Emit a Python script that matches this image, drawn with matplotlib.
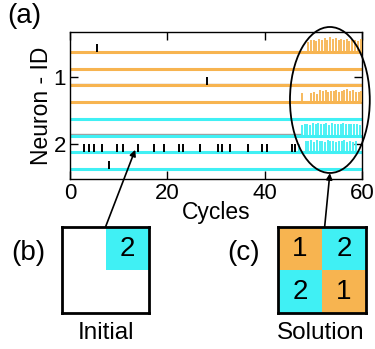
import matplotlib
matplotlib.use('Agg')
import matplotlib.pyplot as plt
from matplotlib.patches import Ellipse, Rectangle

plt.rcParams['font.family'] = ['Liberation Sans', 'DejaVu Sans']

ORANGE = '#F7B450'
CYAN = '#40F0F4'

# ---------------- data ----------------
rows = [1, 2, 3, 4, 5, 6, 7, 8]
row_groups = ['1', '1', '1', '1', '2', '2', '2', '2']
group_ticks = [2.5, 6.5]
group_labels = ['1', '2']
x_ticks = [0, 20, 40, 60]

# black (non-solution) spikes: (row, time)
black_row1 = [5.5]
black_row3 = [28.2]
black_row7 = [2.9, 4.0, 4.9, 6.6, 9.6, 10.9, 13.9, 17.2, 19.3, 22.4, 23.2,
              26.8, 30.5, 31.3, 32.9, 36.6, 39.4, 40.4, 45.6, 46.3]
black_row8 = [8.0]

# coloured (solution) spikes
row1_t = [48.9, 49.5, 50.1, 50.6, 51.2, 51.8, 52.3, 52.9, 53.5, 54.0, 54.6,
          55.2, 55.7, 56.3, 56.9, 57.4, 58.0, 58.6, 59.2, 59.8]
row1_h = [0.62, 0.70, 0.72, 0.66, 0.80, 0.70, 0.84, 0.74, 0.90, 0.80, 0.86,
          0.72, 0.80, 0.70, 0.76, 0.66, 0.74, 0.70, 0.64, 0.78]
row4_t = [47.6, 49.6, 50.2, 50.8, 51.3, 51.9, 52.5, 53.0, 53.6, 54.2, 54.7,
          55.3, 55.9, 56.4, 57.0, 57.6, 58.1, 58.7, 59.3, 59.8]
row4_h = [0.55, 0.52, 0.60, 0.50, 0.70, 0.66, 0.72, 0.62, 0.68, 0.64, 0.70,
          0.60, 0.66, 0.72, 0.80, 0.66, 0.70, 0.62, 0.60, 0.66]
row6_t = [47.6, 48.2, 48.8, 49.3, 49.9, 50.5, 51.0, 51.6, 52.2, 52.7, 53.3,
          53.9, 54.4, 55.0, 55.6, 56.1, 56.7, 57.3, 57.8, 58.4, 59.0, 59.6]
row6_h = [0.62, 0.68, 0.72, 0.66, 0.74, 0.70, 0.78, 0.72, 0.68, 0.74, 0.66,
          0.76, 0.70, 0.72, 0.68, 0.74, 0.70, 0.72, 0.68, 0.70, 0.72, 0.66]
row7_t = [47.0, 48.4, 49.0, 49.6, 50.1, 50.7, 51.3, 51.8, 52.4, 53.0, 53.5,
          54.1, 54.7, 55.2, 55.8, 56.4, 56.9, 57.5, 58.1, 58.7]
row7_h = [0.50, 0.70, 0.66, 0.74, 0.60, 0.72, 0.66, 0.70, 0.64, 0.72, 0.66,
          0.70, 0.64, 0.70, 0.66, 0.72, 0.64, 0.70, 0.62, 0.66]

initial_grid = [['', '2'], ['', '']]
solution_grid = [['1', '2'], ['2', '1']]

# ---------------- figure ----------------
W, H = 375, 349
fig = plt.figure(figsize=(W / 100, H / 100), dpi=100)


def fbox(x0, y0, x1, y1):
    return [x0 / W, 1 - y1 / H, (x1 - x0) / W, (y1 - y0) / H]


ax = fig.add_axes(fbox(70, 32, 362, 179))
ax.set_xlim(0, 60)
ax.set_ylim(8.6, -0.2)

grp_color = {'1': ORANGE, '2': CYAN}
for r, g in zip(rows, row_groups):
    ax.plot([0, 60], [r, r], color=grp_color[g], lw=2.2, solid_capstyle='butt', zorder=2)
# faint grey traces above some lines
ax.plot([0, 60], [2.92, 2.92], color='#b8a890', lw=1.0, zorder=1)
ax.plot([0, 47.5], [5.92, 5.92], color='#a0a0a0', lw=1.0, zorder=1)


def spikes(times, row, heights, color, lw):
    for t, h in zip(times, heights):
        ax.plot([t, t], [row, row - h], color=color, lw=lw, solid_capstyle='butt', zorder=3)


spikes(black_row1, 1, [0.5] * len(black_row1), 'black', 1.4)
spikes(black_row3, 3, [0.5] * len(black_row3), 'black', 1.4)
spikes(black_row7, 7, [0.5] * len(black_row7), 'black', 1.4)
spikes(black_row8, 8, [0.5] * len(black_row8), 'black', 1.4)
spikes(row1_t, 1, row1_h, ORANGE, 1.3)
spikes(row4_t, 4, row4_h, ORANGE, 1.3)
spikes(row6_t, 6, row6_h, CYAN, 1.3)
spikes(row7_t, 7, row7_h, CYAN, 1.3)

ax.set_xticks(x_ticks)
ax.set_yticks(group_ticks)
ax.set_yticklabels(group_labels)
ax.tick_params(direction='in', top=True, right=True, length=6, width=1,
               labelsize=16, pad=3)
for s in ax.spines.values():
    s.set_linewidth(1.0)
ax.set_xlabel('Cycles', fontsize=16.5, labelpad=-2)
ax.set_ylabel('Neuron - ID', fontsize=16.5, labelpad=0)

ell = Ellipse((53.4, 3.87), 16.4, 8.74, fill=False, edgecolor='black', lw=1.3,
              clip_on=False, zorder=5)
ax.add_patch(ell)


def grid_panel(box, grid):
    a = fig.add_axes(box)
    a.set_xlim(0, 2)
    a.set_ylim(2, 0)
    a.set_xticks([])
    a.set_yticks([])
    for i, rowv in enumerate(grid):
        for j, v in enumerate(rowv):
            col = {'1': ORANGE, '2': CYAN}.get(v, 'white')
            a.add_patch(Rectangle((j, i), 1, 1, facecolor=col, edgecolor='none'))
            if v:
                a.text(j + 0.5, i + 0.52, v, ha='center', va='center', fontsize=20)
    for s in a.spines.values():
        s.set_linewidth(2.0)
    return a


axb = grid_panel(fbox(62, 227, 149, 313), initial_grid)
axc = grid_panel(fbox(278, 227, 366, 313), solution_grid)

ax.annotate('', xy=(13.4, 6.85), xycoords='data', xytext=(0.5, 1.0),
            textcoords=axb.transAxes,
            arrowprops=dict(arrowstyle='-|>', color='black', lw=1.2,
                            mutation_scale=9, shrinkA=0, shrinkB=0))
ax.annotate('', xy=(53.4, 8.25), xycoords='data', xytext=(0.53, 1.0),
            textcoords=axc.transAxes,
            arrowprops=dict(arrowstyle='-|>', color='black', lw=1.2,
                            mutation_scale=9, shrinkA=0, shrinkB=0))

fig.text(24 / W, 1 - 16 / H, '(a)', fontsize=20, ha='center', va='center')
fig.text(28 / W, 1 - 253 / H, '(b)', fontsize=20, ha='center', va='center')
fig.text(244 / W, 1 - 253 / H, '(c)', fontsize=20, ha='center', va='center')
fig.text(106 / W, 1 - 333 / H, 'Initial', fontsize=17.5, ha='center', va='center')
fig.text(321 / W, 1 - 333 / H, 'Solution', fontsize=17.5, ha='center', va='center')

fig.savefig('out.png', dpi=100)
